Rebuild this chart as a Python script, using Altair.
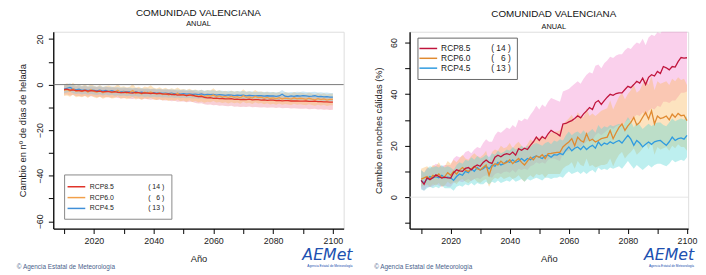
import altair as alt
import pandas as pd

YEARS = list(range(2010, 2101))
SCENARIOS = ["RCP8.5", "RCP6.0", "RCP4.5"]
MODEL_COUNTS = ["( 14 )", "( \u20076 )", "( 13 )"]
X_TICKS = [2010, 2020, 2030, 2040, 2050, 2060, 2070, 2080, 2090, 2100]
Y_TICKS_L = [-60, -50, -40, -30, -20, -10, 0, 10, 20]
Y_TICKS_R = [-10, 0, 10, 20, 30, 40, 50, 60]

# ---------------- left panel: change in frost days ----------------
L85_MEAN = [-2.2, -2.0, -2.4, -2.3, -2.6, -2.6, -2.8, -2.5, -2.9, -2.7,
            -2.8, -3.0, -2.9, -3.2, -3.0, -3.1, -3.3, -3.1, -3.4, -3.5,
            -3.5, -3.3, -3.6, -3.7, -3.4, -3.5, -3.8, -3.6, -3.7, -3.9,
            -3.7, -4.0, -3.9, -4.1, -4.2, -4.1, -4.4, -4.3, -4.6, -4.5,
            -4.5, -4.8, -4.6, -4.6, -5.1, -5.3, -5.2, -5.6, -5.8, -5.7,
            -6.0, -5.9, -6.2, -6.1, -6.3, -6.3, -6.2, -6.5, -6.4, -6.6,
            -6.5, -6.6, -6.4, -6.7, -6.6, -6.6, -6.8, -6.7, -6.9, -6.8,
            -6.8, -7.0, -6.9, -7.1, -7.0, -7.0, -7.2, -7.1, -7.2, -7.3,
            -7.3, -7.2, -7.4, -7.4, -7.3, -7.5, -7.5, -7.6, -7.6, -7.7, -7.7]
L85_LO = [-4.5, -4.3, -4.8, -4.6, -5.0, -5.0, -5.2, -4.9, -5.3, -5.1,
          -5.2, -5.5, -5.3, -5.7, -5.4, -5.6, -5.8, -5.6, -5.9, -6.0,
          -6.0, -5.8, -6.2, -6.3, -6.0, -6.1, -6.5, -6.2, -6.4, -6.6,
          -6.4, -6.8, -6.6, -6.9, -7.0, -6.9, -7.3, -7.1, -7.5, -7.4,
          -7.4, -7.8, -7.5, -7.6, -8.1, -8.3, -8.2, -8.6, -8.9, -8.7,
          -9.1, -9.0, -9.3, -9.2, -9.4, -9.5, -9.3, -9.7, -9.6, -9.8,
          -9.7, -9.8, -9.6, -9.9, -9.8, -9.9, -10.1, -9.9, -10.2, -10.0,
          -10.0, -10.3, -10.1, -10.4, -10.3, -10.3, -10.5, -10.4, -10.5, -10.6,
          -10.6, -10.5, -10.8, -10.7, -10.6, -10.9, -10.8, -11.0, -10.9, -11.1, -11.0]
L85_HI = [-0.5, -0.2, -0.6, -0.5, -0.8, -0.7, -1.0, -0.6, -1.1, -0.9,
          -1.0, -1.1, -1.0, -1.3, -1.1, -1.2, -1.4, -1.2, -1.5, -1.6,
          -1.6, -1.4, -1.7, -1.8, -1.5, -1.6, -1.9, -1.7, -1.8, -2.0,
          -1.8, -2.1, -2.0, -2.2, -2.3, -2.2, -2.5, -2.4, -2.7, -2.6,
          -2.6, -2.9, -2.7, -2.7, -3.2, -3.4, -3.3, -3.7, -3.9, -3.8,
          -4.0, -3.9, -4.2, -4.1, -4.3, -4.3, -4.2, -4.5, -4.4, -4.6,
          -4.5, -4.6, -4.4, -4.7, -4.6, -4.6, -4.8, -4.7, -4.9, -4.8,
          -4.8, -5.0, -4.9, -5.1, -5.0, -5.0, -5.2, -5.1, -5.2, -5.3,
          -5.3, -5.2, -5.4, -5.4, -5.3, -5.5, -5.5, -5.6, -5.6, -5.7, -5.7]

L60_MEAN = [-2.5, -2.2, -2.8, -1.8, -2.9, -2.6, -3.1, -2.4, -3.3, -2.2,
            -3.0, -3.4, -2.7, -3.6, -3.1, -2.9, -3.5, -3.3, -2.5, -3.6,
            -3.2, -3.8, -3.4, -2.6, -3.9, -3.5, -4.1, -3.3, -3.7, -3.2,
            -3.9, -4.2, -3.7, -4.4, -3.9, -4.6, -4.1, -4.5, -3.8, -4.7,
            -4.4, -4.9, -4.3, -5.0, -4.6, -5.2, -4.8, -5.4, -4.9, -5.1,
            -4.6, -5.3, -5.0, -5.5, -5.2, -5.7, -5.1, -5.6, -5.3, -5.8,
            -4.9, -5.6, -5.4, -5.9, -5.2, -5.7, -5.5, -6.0, -5.6, -6.1,
            -5.8, -6.2, -5.7, -6.3, -5.9, -6.1, -6.4, -5.8, -6.3, -6.0,
            -6.2, -6.5, -6.0, -6.4, -6.7, -6.2, -6.6, -6.3, -6.8, -6.5, -6.5]
L60_LO = [-5.0, -4.8, -5.3, -4.4, -5.5, -5.2, -5.6, -5.0, -5.9, -4.8,
          -5.6, -6.0, -5.3, -6.2, -5.7, -5.5, -6.1, -5.9, -5.1, -6.2,
          -5.8, -6.4, -6.0, -5.3, -6.5, -6.1, -6.7, -5.9, -6.3, -5.8,
          -6.5, -6.8, -6.3, -7.0, -6.5, -7.2, -6.7, -7.1, -6.4, -7.3,
          -7.0, -7.5, -6.9, -7.6, -7.2, -7.8, -7.4, -8.0, -7.5, -7.7,
          -7.2, -7.9, -7.6, -8.1, -7.8, -8.3, -7.7, -8.2, -7.9, -8.4,
          -7.5, -8.2, -8.0, -8.5, -7.8, -8.3, -8.1, -8.6, -8.2, -8.7,
          -8.4, -8.8, -8.3, -8.9, -8.5, -8.7, -9.0, -8.4, -8.9, -8.6,
          -8.8, -9.1, -8.6, -9.0, -9.3, -8.8, -9.2, -8.9, -9.4, -9.1, -9.1]
L60_HI = [0.0, 0.6, -0.3, 0.8, -0.4, -0.1, -0.6, 0.1, -0.8, 0.4,
          -0.5, -0.9, -0.2, -1.1, -0.6, -0.4, -1.0, -0.8, 0.2, -1.1,
          -0.7, -1.3, -0.9, 0.3, -1.4, -1.0, -1.6, -0.8, -1.2, -0.3,
          -1.4, -1.7, -1.2, -1.9, -1.4, -2.1, -1.6, -2.0, -1.3, -2.2,
          -1.9, -2.4, -1.8, -2.5, -2.1, -2.7, -2.3, -2.9, -2.4, -2.6,
          -1.6, -2.8, -2.5, -3.0, -2.7, -3.2, -2.6, -3.1, -2.8, -3.3,
          -2.0, -3.1, -2.9, -3.4, -2.4, -3.2, -3.0, -3.5, -3.1, -3.6,
          -3.3, -3.7, -3.2, -3.8, -3.4, -3.6, -3.9, -3.3, -3.8, -3.5,
          -3.7, -4.0, -3.5, -3.9, -4.2, -3.7, -4.1, -3.8, -4.3, -4.0, -4.0]

L45_MEAN = [-2.0, -1.6, -1.2, -1.9, -2.3, -2.0, -2.5, -2.2, -2.6, -2.3,
            -2.5, -2.8, -2.4, -2.9, -2.6, -3.0, -2.7, -3.1, -2.9, -3.2,
            -3.0, -3.3, -3.1, -3.4, -3.2, -3.5, -3.3, -3.6, -3.4, -3.7,
            -3.5, -3.8, -3.6, -3.9, -3.7, -4.0, -3.8, -4.1, -3.9, -4.2,
            -4.0, -4.2, -4.1, -4.3, -4.2, -4.4, -4.1, -4.5, -4.3, -4.4,
            -4.3, -4.6, -4.4, -4.5, -4.7, -4.5, -4.6, -4.8, -4.6, -4.7,
            -4.6, -4.9, -4.7, -4.8, -5.0, -4.8, -4.9, -5.1, -4.9, -5.0,
            -5.0, -5.2, -5.0, -4.2, -5.1, -5.3, -5.0, -5.2, -4.9, -5.1,
            -4.8, -5.0, -5.2, -5.1, -4.9, -5.3, -5.2, -5.4, -5.3, -5.5, -5.5]
L45_LO = [-3.8, -3.5, -3.1, -3.8, -4.1, -3.9, -4.3, -4.0, -4.5, -4.1,
          -4.3, -4.6, -4.2, -4.8, -4.4, -4.8, -4.5, -4.9, -4.7, -5.0,
          -4.8, -5.1, -4.9, -5.2, -5.0, -5.3, -5.1, -5.4, -5.2, -5.5,
          -5.3, -5.6, -5.4, -5.7, -5.5, -5.8, -5.6, -5.9, -5.7, -6.0,
          -5.8, -6.0, -5.9, -6.1, -6.0, -6.2, -5.9, -6.3, -6.1, -6.2,
          -6.1, -6.4, -6.2, -6.3, -6.5, -6.3, -6.4, -6.6, -6.4, -6.5,
          -6.4, -6.7, -6.5, -6.6, -6.8, -6.6, -6.7, -6.9, -6.7, -6.8,
          -6.8, -7.0, -6.8, -6.0, -6.9, -7.1, -6.8, -7.0, -6.7, -6.9,
          -6.6, -6.8, -7.0, -6.9, -6.7, -7.1, -7.0, -7.2, -7.1, -7.3, -7.3]
L45_HI = [-0.2, 0.3, 0.6, -0.1, -0.5, -0.2, -0.7, -0.4, -0.8, -0.5,
          -0.7, -1.0, -0.6, -1.1, -0.8, -1.2, -0.9, -1.3, -1.1, -1.4,
          -1.2, -1.5, -1.3, -1.6, -1.4, -1.7, -1.5, -1.8, -1.6, -1.9,
          -1.7, -2.0, -1.8, -2.1, -1.9, -2.2, -2.0, -2.3, -2.1, -2.4,
          -2.2, -2.4, -2.3, -2.5, -2.4, -2.6, -2.3, -2.7, -2.5, -2.6,
          -2.5, -2.8, -2.6, -2.7, -2.9, -2.7, -2.8, -3.0, -2.8, -2.9,
          -2.8, -3.1, -2.9, -3.0, -3.2, -3.0, -3.1, -3.3, -3.1, -3.2,
          -3.2, -3.4, -3.2, -2.4, -3.3, -3.5, -3.2, -3.4, -3.1, -3.3,
          -3.0, -3.2, -3.4, -3.3, -3.1, -3.5, -3.4, -3.6, -3.5, -3.7, -3.7]

# ---------------- right panel: change in warm nights (%) ----------------
R85_MEAN = [6.5, 5.0, 7.5, 6.8, 7.5, 8.7, 8.0, 7.4, 7.8, 7.5,
            7.4, 9.5, 10.6, 10.2, 10.0, 11.2, 11.5, 10.6, 11.8, 12.5,
            12.0, 13.5, 14.4, 13.5, 13.1, 15.5, 16.3, 15.7, 16.5, 16.9,
            16.5, 17.5, 16.3, 18.8, 18.2, 19.0, 18.5, 20.1, 21.5, 23.3,
            22.0, 23.5, 22.7, 24.6, 25.9, 25.2, 24.6, 23.8, 28.4, 28.6,
            29.2, 29.7, 30.5, 31.6, 30.8, 32.3, 33.5, 34.8, 34.0, 36.7,
            37.5, 36.0, 37.5, 38.8, 39.9, 39.5, 40.2, 40.5, 40.5, 41.8,
            43.0, 42.5, 43.7, 45.0, 44.3, 46.2, 43.7, 46.5, 47.5, 47.0,
            48.8, 48.0, 50.7, 50.2, 49.4, 50.7, 50.5, 52.6, 54.2, 54.0, 54.1]
R85_LO = [3.5, 2.5, 4.0, 3.8, 4.2, 5.0, 4.5, 4.0, 4.5, 4.0,
          4.0, 5.5, 6.0, 6.2, 5.8, 6.5, 7.0, 6.2, 7.0, 7.5,
          7.0, 8.0, 8.5, 8.0, 7.5, 9.0, 9.5, 9.0, 9.8, 10.0,
          9.5, 10.5, 9.5, 11.0, 10.5, 11.0, 10.5, 12.0, 12.5, 13.5,
          13.0, 13.5, 13.0, 14.5, 15.0, 15.0, 14.5, 14.0, 17.0, 17.5,
          18.0, 18.5, 19.0, 20.0, 19.5, 20.5, 21.5, 22.5, 22.0, 24.0,
          25.0, 24.0, 25.0, 26.0, 27.0, 26.5, 27.5, 28.0, 28.0, 29.0,
          30.0, 30.0, 31.0, 32.0, 31.5, 33.0, 31.5, 33.5, 34.5, 34.0,
          35.5, 35.0, 37.0, 37.0, 36.5, 37.5, 37.5, 39.0, 40.5, 40.5, 41.0]
R85_HI = [10.5, 9.5, 11.5, 11.0, 12.0, 13.0, 12.5, 12.0, 12.5, 12.5,
          12.5, 15.0, 16.0, 15.5, 16.0, 17.5, 18.0, 17.0, 18.5, 19.5,
          19.0, 21.0, 22.5, 21.5, 21.5, 24.0, 25.5, 25.0, 26.0, 27.0,
          26.5, 28.0, 27.0, 30.0, 29.5, 30.5, 30.0, 32.0, 33.5, 35.5,
          34.0, 36.0, 35.0, 37.0, 38.5, 38.0, 37.5, 37.0, 41.0, 41.5,
          42.0, 43.0, 44.0, 45.0, 44.0, 46.0, 47.5, 48.5, 48.0, 51.0,
          51.5, 50.0, 52.0, 53.0, 54.5, 54.0, 55.0, 55.5, 55.5, 57.0,
          58.0, 57.5, 59.0, 60.0, 59.5, 61.5, 59.0, 62.0, 63.0, 62.5,
          64.0, 63.5, 65.5, 65.0, 64.5, 66.0, 65.5, 67.0, 68.5, 68.0, 68.5]

R60_MEAN = [7.0, 7.5, 8.0, 7.0, 8.5, 8.0, 9.0, 7.5, 8.0, 9.5,
            8.5, 10.0, 9.0, 10.5, 11.5, 10.5, 10.0, 11.0, 12.0, 11.0,
            10.5, 11.5, 12.5, 8.5, 12.0, 13.0, 12.5, 14.0, 13.0, 13.5,
            14.5, 13.0, 14.0, 15.0, 13.5, 12.5, 14.0, 15.5, 14.5, 16.0,
            15.5, 16.5, 15.0, 16.9, 17.0, 17.2, 17.4, 17.4, 19.5, 20.5,
            21.4, 22.7, 20.0, 23.3, 22.0, 21.4, 24.6, 21.9, 22.5, 21.4,
            22.0, 22.7, 23.0, 23.3, 25.9, 22.7, 25.0, 27.1, 28.4, 25.9,
            27.7, 29.0, 30.9, 28.0, 29.0, 31.0, 32.9, 30.3, 33.5, 28.4,
            31.5, 30.5, 30.9, 31.5, 30.0, 32.2, 31.0, 32.5, 31.6, 31.8, 29.7]
R60_LO = [4.0, 4.5, 5.0, 4.0, 5.0, 4.5, 5.5, 4.0, 4.5, 6.0,
          5.0, 6.0, 5.0, 6.5, 7.0, 6.0, 5.5, 6.5, 7.0, 6.0,
          5.5, 6.5, 7.0, 4.0, 6.5, 7.5, 7.0, 8.0, 7.0, 7.5,
          8.0, 7.0, 7.5, 8.5, 7.0, 6.0, 7.5, 8.5, 7.5, 9.0,
          8.5, 9.0, 7.5, 9.0, 9.0, 9.0, 9.0, 9.0, 11.0, 12.0,
          12.5, 13.5, 11.0, 14.0, 12.5, 12.0, 15.0, 12.0, 12.5, 11.5,
          12.0, 12.5, 12.5, 13.0, 15.0, 12.0, 14.5, 16.5, 17.5, 15.0,
          16.5, 17.5, 19.0, 16.5, 17.5, 19.0, 21.0, 18.5, 21.5, 16.5,
          19.5, 18.5, 19.0, 19.5, 18.0, 20.0, 19.0, 20.5, 19.5, 19.5, 18.0]
R60_HI = [11.0, 11.5, 12.0, 11.0, 12.5, 12.0, 13.5, 11.5, 12.0, 14.0,
          13.0, 14.5, 13.5, 15.0, 16.5, 15.0, 14.5, 16.0, 17.0, 16.0,
          15.5, 16.5, 18.0, 13.5, 17.5, 18.5, 18.0, 20.0, 19.0, 19.5,
          21.0, 19.0, 20.5, 21.5, 20.0, 19.0, 20.5, 22.5, 21.5, 23.5,
          23.0, 24.0, 22.5, 24.5, 25.0, 25.5, 25.5, 26.0, 28.5, 29.5,
          30.5, 32.0, 29.5, 33.0, 31.5, 31.0, 34.5, 31.5, 32.5, 31.5,
          32.5, 33.5, 34.0, 34.5, 37.5, 34.0, 36.5, 39.0, 40.5, 38.0,
          40.0, 41.5, 43.5, 40.5, 41.5, 44.0, 46.0, 43.5, 47.0, 41.5,
          45.0, 44.0, 44.5, 45.0, 43.5, 46.0, 45.0, 46.5, 45.5, 46.0, 43.5]

R45_MEAN = [6.5, 5.5, 7.0, 8.0, 7.5, 8.0, 7.5, 8.5, 7.5, 7.8,
            7.5, 6.5, 8.0, 9.0, 8.5, 10.0, 9.5, 11.0, 10.0, 11.5,
            10.5, 11.0, 12.0, 11.0, 12.5, 12.0, 13.5, 12.5, 13.0, 14.0,
            13.5, 14.5, 13.5, 14.0, 15.0, 14.0, 15.0, 14.5, 15.5, 16.0,
            15.5, 15.0, 16.0, 16.3, 15.5, 16.5, 16.3, 17.0, 16.5, 18.2,
            19.5, 18.0, 19.0, 19.5, 18.5, 19.8, 18.5, 19.5, 20.1, 19.0,
            21.4, 20.0, 21.0, 20.5, 21.5, 20.8, 21.5, 22.0, 21.0, 22.5,
            24.0, 22.5, 20.1, 22.0, 21.0, 19.5, 20.5, 21.4, 20.5, 21.5,
            21.8, 22.0, 21.0, 20.1, 21.5, 23.3, 22.0, 22.7, 23.0, 22.5, 24.0]
R45_LO = [3.0, 2.5, 3.5, 4.0, 3.5, 4.0, 3.5, 4.5, 3.5, 3.5,
          3.5, 2.5, 4.0, 4.5, 4.0, 5.0, 4.5, 5.5, 4.5, 5.5,
          5.0, 5.0, 6.0, 5.0, 6.0, 5.5, 6.5, 5.5, 6.0, 6.5,
          6.0, 7.0, 6.0, 6.5, 7.0, 6.0, 7.0, 6.5, 7.0, 7.5,
          7.0, 6.5, 7.5, 7.5, 7.0, 7.5, 7.5, 8.0, 7.5, 9.0,
          10.0, 9.0, 9.5, 10.0, 9.0, 10.0, 9.0, 10.0, 10.5, 9.5,
          11.5, 10.5, 11.0, 10.5, 11.5, 11.0, 11.5, 12.0, 11.0, 12.5,
          14.0, 12.5, 11.0, 12.5, 11.5, 10.5, 11.5, 12.5, 11.5, 12.5,
          13.0, 13.0, 12.5, 12.0, 13.0, 14.5, 13.5, 14.0, 14.5, 14.0, 15.5]
R45_HI = [10.5, 9.5, 11.0, 12.0, 11.5, 12.0, 11.5, 12.5, 11.5, 12.0,
          11.5, 10.5, 12.5, 13.5, 13.0, 14.5, 14.0, 15.5, 14.5, 16.0,
          15.0, 15.5, 16.5, 15.5, 17.0, 16.5, 18.0, 17.0, 17.5, 18.5,
          18.0, 19.5, 18.5, 19.0, 20.0, 19.0, 20.0, 19.5, 20.5, 21.0,
          20.5, 20.0, 21.0, 21.5, 20.5, 22.0, 21.5, 22.5, 22.0, 24.0,
          25.5, 24.0, 25.0, 25.5, 24.5, 26.0, 24.5, 25.5, 26.5, 25.0,
          28.0, 26.5, 27.5, 27.0, 28.0, 27.5, 28.0, 28.5, 27.5, 29.0,
          31.0, 29.5, 27.0, 29.0, 28.0, 26.5, 27.5, 28.5, 27.5, 28.5,
          29.0, 29.0, 28.0, 27.5, 29.0, 30.5, 29.5, 30.0, 30.5, 30.0, 31.5]

FONT = "Liberation Sans"
NB = "\u00a0"


def build_df(series, labels):
    rows = []
    for scen, lab, (m, lo, hi) in zip(SCENARIOS, labels, series):
        for yr, a, b, c in zip(YEARS, m, lo, hi):
            rows.append({"year": yr, "scen": scen, "label": lab,
                         "mean": a, "lo": b, "hi": c})
    return pd.DataFrame(rows)


def make_panel(df, labels, xdom, ydom, yticks, width, height, ytitle,
               line_colors, band_colors, band_opacity, zero_color,
               legend, title, footer_x, footer_y, logo_x, logo_y,
               y_label_pad, y_title_pad):
    base = alt.Chart(df)
    xaxis = alt.Axis(values=X_TICKS, format="d",
                     labelExpr="datum.value % 20 == 0 ? datum.label : ''",
                     labelOverlap=False,
                     title="Año", grid=False, tickSize=5,
                     domainColor="#000", domainWidth=1.3,
                     tickColor="#000", labelFont=FONT, labelFontSize=9,
                     titleFont=FONT, titleFontSize=9.5,
                     titleFontWeight="normal", labelPadding=3,
                     titlePadding=8, labelColor="#222",
                     titleColor="#222")
    xenc = alt.X("year:Q", scale=alt.Scale(domain=xdom, nice=False, zero=False),
                 axis=xaxis)
    yscale = alt.Scale(domain=ydom, nice=False, zero=False)
    yaxis = alt.Axis(values=yticks,
                     labelExpr="datum.value % 20 == 0 ? datum.label : ''",
                     labelOverlap=False,
                     title=ytitle, grid=False, tickSize=5, domainColor="#000",
                     domainWidth=1.3, tickColor="#000", labelAngle=270,
                     labelAlign="center", labelBaseline="bottom",
                     labelFont=FONT, labelFontSize=9, titleFont=FONT,
                     titleFontSize=9.5, titleFontWeight="normal",
                     labelPadding=y_label_pad, titlePadding=y_title_pad,
                     labelColor="#222", titleColor="#222")

    layers = []
    for scen, col in zip(SCENARIOS, band_colors):
        layers.append(base.transform_filter(alt.datum.scen == scen)
                      .mark_area(color=col, opacity=band_opacity, clip=True)
                      .encode(x=xenc, y=alt.Y("lo:Q", scale=yscale, axis=yaxis),
                              y2="hi:Q"))
    zero = alt.Chart(pd.DataFrame({"v": [0]})).mark_rule(
        color=zero_color, strokeWidth=1).encode(
        y=alt.Y("v:Q", scale=yscale, axis=yaxis))
    layers.append(zero)
    stroke = alt.Stroke("label:N",
                        scale=alt.Scale(domain=labels, range=line_colors),
                        legend=legend)
    for scen in reversed(SCENARIOS):
        layers.append(base.transform_filter(alt.datum.scen == scen)
                      .mark_line(strokeWidth=1.3, clip=True)
                      .encode(x=xenc,
                              y=alt.Y("mean:Q", scale=yscale, axis=yaxis),
                              stroke=stroke))
    footer = alt.Chart(pd.DataFrame({"t": ["\u00a9 Agencia Estatal de Meteorología"]})).mark_text(
        align="left", baseline="middle", font=FONT, fontSize=6.5,
        color="#4b5f8c").encode(text="t:N", x=alt.value(footer_x),
                                 y=alt.value(footer_y))
    logo = alt.Chart(pd.DataFrame({"t": ["AEMet"]})).mark_text(
        align="right", baseline="alphabetic", font="DejaVu Sans",
        fontSize=16, fontStyle="italic", color="#2050b0").encode(
        text="t:N", x=alt.value(logo_x), y=alt.value(logo_y))
    logo_sub = alt.Chart(pd.DataFrame({"t": ["Agencia Estatal de Meteorología"]})).mark_text(
        align="right", baseline="top", font=FONT, fontSize=3.2,
        color="#2050b0").encode(text="t:N", x=alt.value(logo_x),
                                y=alt.value(logo_y + 4))
    layers += [footer, logo, logo_sub]
    return alt.layer(*layers).properties(width=width, height=height,
                                          title=title)


def legend_labels(gap):
    return [s + NB * gap + c for s, c in zip(SCENARIOS, MODEL_COUNTS)]


labels_l = legend_labels(18)
labels_r = legend_labels(9)

df_l = build_df([(L85_MEAN, L85_LO, L85_HI), (L60_MEAN, L60_LO, L60_HI),
                 (L45_MEAN, L45_LO, L45_HI)], labels_l)
df_r = build_df([(R85_MEAN, R85_LO, R85_HI), (R60_MEAN, R60_LO, R60_HI),
                 (R45_MEAN, R45_LO, R45_HI)], labels_r)

legend_l = alt.Legend(title=None, orient="none", legendX=11, legendY=145,
                      symbolType="M-2,0H2", symbolSize=81, symbolStrokeWidth=1.5,
                      labelFont=FONT, labelFontSize=7, labelColor="#222",
                      labelLimit=400, fillColor="white", strokeColor="#888",
                      padding=7, rowPadding=2, labelOffset=8)
legend_r = alt.Legend(title=None, orient="none", legendX=8, legendY=6,
                      symbolType="M-2.25,0H2.25", symbolSize=64,
                      symbolStrokeWidth=1.5,
                      labelFont=FONT, labelFontSize=8.5, labelColor="#222",
                      labelLimit=400, fillColor="white", strokeColor="#666",
                      padding=6, rowPadding=0, labelOffset=8)

title_l = alt.TitleParams(text="COMUNIDAD VALENCIANA", subtitle="ANUAL",
                          font=FONT, fontSize=10, fontWeight="normal",
                          subtitleFont=FONT, subtitleFontSize=7.5,
                          color="#111", subtitleColor="#111", anchor="middle",
                          offset=4, subtitlePadding=2)
title_r = alt.TitleParams(text="COMUNIDAD VALENCIANA", subtitle="ANUAL",
                          font=FONT, fontSize=10, fontWeight="normal",
                          subtitleFont=FONT, subtitleFontSize=7.5,
                          color="#111", subtitleColor="#111", anchor="middle",
                          offset=1, subtitlePadding=4, dx=5)

left = make_panel(df_l, labels_l, [2006.4, 2103.6], [-63.2, 23.2], Y_TICKS_L,
                  295, 200, "Cambio en nº de días de helada",
                  ["#e0342a", "#f2a04a", "#3f8fd8"],
                  ["#ee8a9c", "#f9b860", "#86c2e0"], 0.4, "#777",
                  legend_l, title_l, -37, 239, 304, 232, 3.5, 9)
right = make_panel(df_r, labels_r, [2006.1, 2100.4], [-12.2, 64.2], Y_TICKS_R,
                   283, 200, "Cambio en noches cálidas (%)",
                   ["#c0143c", "#e08a30", "#2f9be0"],
                   ["#f28ad0", "#fbb860", "#5ad8d8"], 0.4, "#e6e6e6",
                   legend_r, title_r, -36, 239, 289, 232, 6, 7)

chart = alt.hconcat(left, right, spacing=19).resolve_scale(
    x="independent", y="independent", stroke="independent"
).resolve_legend(stroke="independent").properties(
    padding={"left": 8, "top": -2, "right": 0, "bottom": 0}
).configure_view(stroke="#888", strokeWidth=1).configure_axis(
    labelOverlap=False
).configure(background="white")

chart.save("out.html", embed_options={"renderer": "svg", "actions": False})
